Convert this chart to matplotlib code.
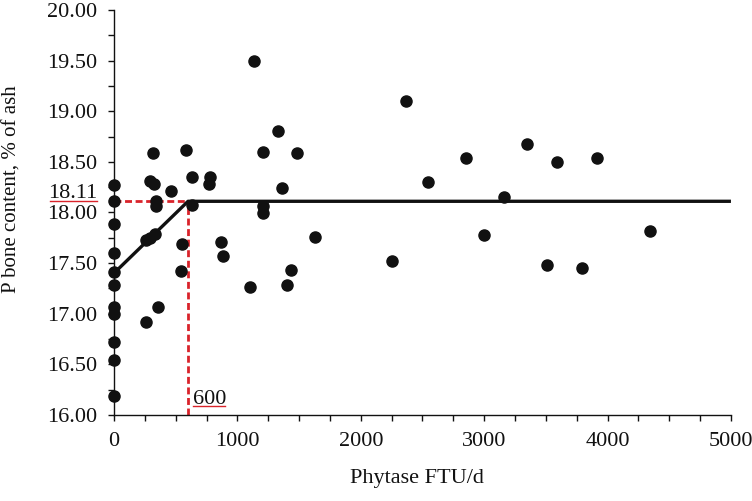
import matplotlib
matplotlib.use('Agg')
import matplotlib.pyplot as plt
from matplotlib.ticker import MultipleLocator, FormatStrFormatter
from matplotlib.transforms import blended_transform_factory

# === Data ===
phytase = [0, 0, 0, 0, 0, 0, 0, 0, 0, 0, 0,
           257, 257, 292, 333, 360, 292, 324, 319, 341, 341,
           465, 549, 543, 584, 635, 635, 779, 773, 865, 881,
           1103, 1135, 1206, 1333, 1365, 1482, 1211, 1211, 1406, 1436,
           1625, 2252, 2368, 2541, 2849, 2995, 3158, 3347, 3508, 3591,
           3792, 3912, 4347]
p_bone = [18.27, 18.11, 17.89, 17.60, 17.41, 17.28, 17.07, 17.00, 16.72, 16.54, 16.19,
          16.92, 17.73, 17.75, 17.79, 17.07, 18.31, 18.28, 18.59, 18.11, 18.06,
          18.21, 17.69, 17.42, 18.62, 18.35, 18.07, 18.35, 18.28, 17.71, 17.57,
          17.26, 19.50, 18.60, 18.80, 18.24, 18.59, 18.06, 17.99, 17.28, 17.43,
          17.76, 17.52, 19.10, 18.30, 18.54, 17.78, 18.15, 18.68, 17.48, 18.50,
          17.45, 18.54, 17.82]

# broken-line fit
fit_x = [0, 600, 5000]
fit_y = [17.40, 18.11, 18.11]
breakpoint_x = 600
plateau_y = 18.11

red = '#d9232a'
ink = '#111111'

plt.rcParams['font.family'] = ['Liberation Serif', 'DejaVu Serif']
plt.rcParams['font.size'] = 16

fig = plt.figure(figsize=(7.52, 5.01), dpi=100)
ax = fig.add_axes([0.1516, 0.172, 0.8204, 0.808])

# red dashed guide lines
dash = (0, (2.5, 1.3))
ax.plot([0, breakpoint_x], [plateau_y, plateau_y], color=red, linestyle=dash,
        linewidth=2.0, zorder=2)
ax.plot([breakpoint_x, breakpoint_x], [16.0, plateau_y], color=red, linestyle=dash,
        linewidth=2.0, zorder=2)

# fit line
ax.plot(fit_x, fit_y, color=ink, linewidth=2.4, zorder=3, solid_capstyle='butt')

# data points
ax.scatter(phytase, p_bone, s=64, color=ink, zorder=4, clip_on=False)

ax.set_xlim(0, 5000)
ax.set_ylim(16.0, 20.0)

ax.xaxis.set_major_locator(MultipleLocator(1000))
ax.xaxis.set_minor_locator(MultipleLocator(250))
ax.yaxis.set_major_locator(MultipleLocator(0.5))
ax.yaxis.set_minor_locator(MultipleLocator(0.25))
ax.yaxis.set_major_formatter(FormatStrFormatter('%.2f'))

ax.tick_params(which='both', direction='out', length=4.5, width=1.0, colors=ink,
               labelsize=16)
ax.tick_params(axis='x', pad=8)
ax.tick_params(axis='y', pad=7.5)

for side in ['top', 'right']:
    ax.spines[side].set_visible(False)
for side in ['left', 'bottom']:
    ax.spines[side].set_linewidth(1.0)
    ax.spines[side].set_color(ink)

# axis titles
fig.text(417 / 752, 1 - 483 / 501, 'Phytase FTU/d', ha='center', va='baseline',
         fontsize=16, color=ink)
fig.text(12.5 / 752, 1 - 189 / 501, 'P bone content, % of ash', ha='center',
         va='center', rotation=90, fontsize=15, color=ink)

# "18.11" label with red underline, in the left margin
fig_y = blended_transform_factory(fig.transFigure, ax.transData)
ax.text(97 / 752, plateau_y + 0.03, '18.11', transform=fig_y, ha='right',
        va='baseline', fontsize=16, color=ink)
ax.plot([50 / 752, 97 / 752], [plateau_y, plateau_y], transform=fig_y, color=red,
        linewidth=1.0, clip_on=False)

# "600" label with red underline
ax.text(638, 16.11, '600', ha='left', va='baseline', fontsize=16, color=ink)
ax.plot([638, 898], [16.089, 16.089], color=red, linewidth=1.0, zorder=2)

plt.savefig('out.png', dpi=100)
